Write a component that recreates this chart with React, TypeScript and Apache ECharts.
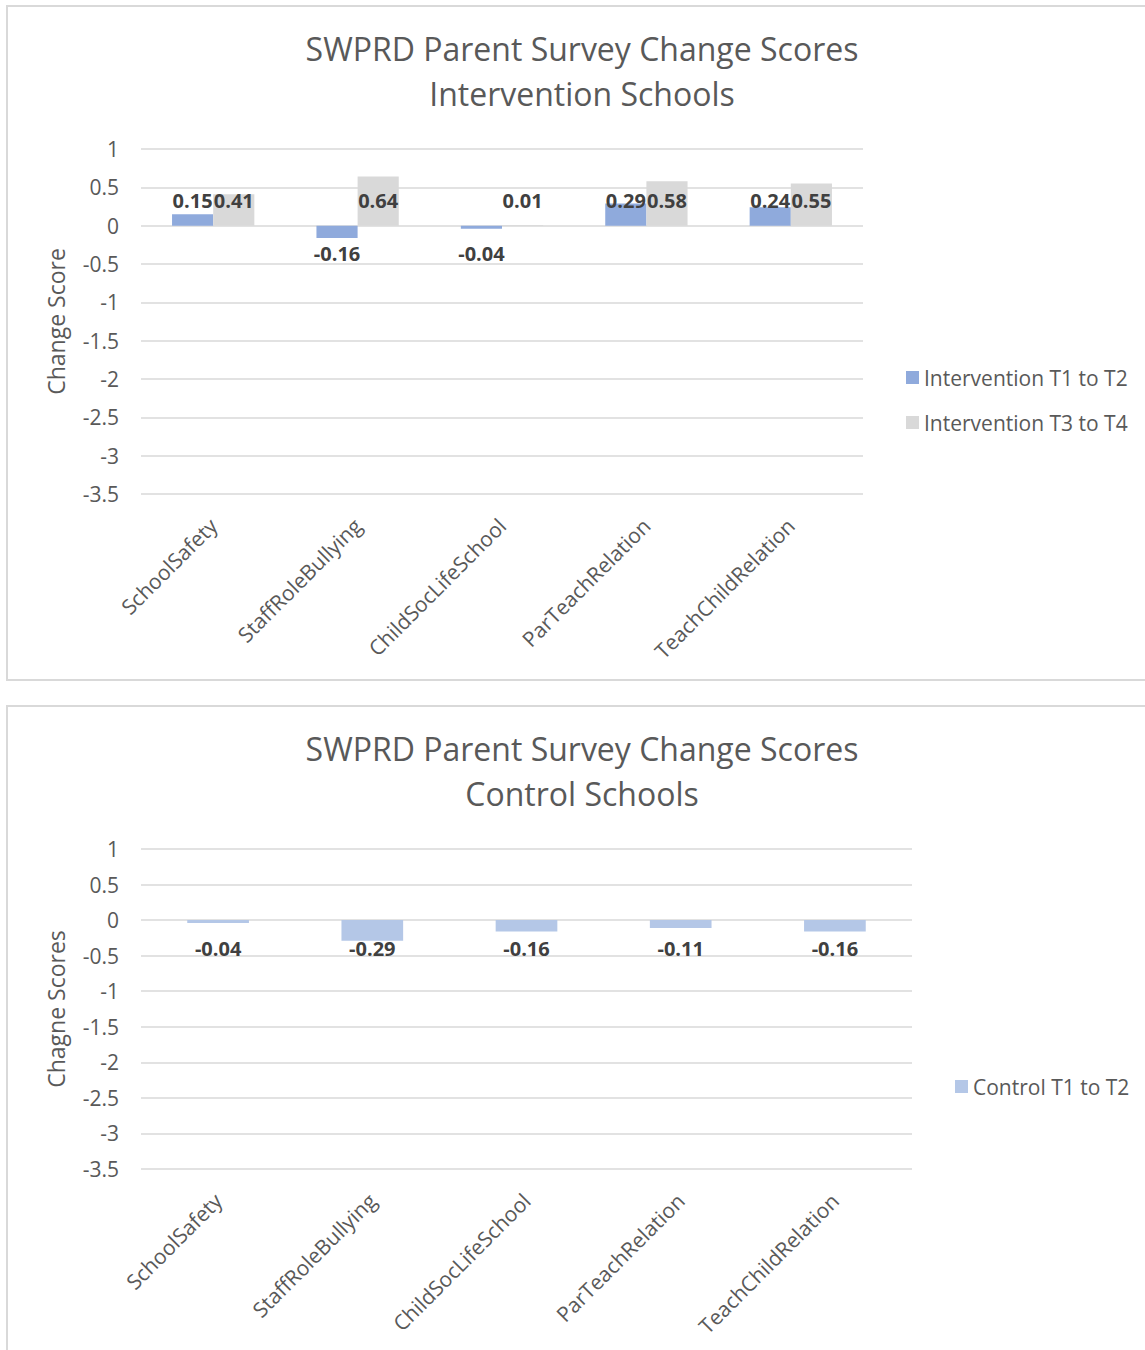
import React, { useEffect, useRef } from "react";
import * as echarts from "echarts";

const categories = [
  "SchoolSafety",
  "StaffRoleBullying",
  "ChildSocLifeSchool",
  "ParTeachRelation",
  "TeachChildRelation",
];
const interventionT1T2 = [0.15, -0.16, -0.04, 0.29, 0.24];
const interventionT3T4 = [0.41, 0.64, 0.01, 0.58, 0.55];
const controlT1T2 = [-0.04, -0.29, -0.16, -0.11, -0.16];

const Y_MIN = -3.5;
const Y_MAX = 1;
const Y_STEP = 0.5;

const FONT = "'Open Sans', 'Noto Sans', sans-serif";
const TEXT = "#595959";
const LABEL = "#404040";
const GRID = "#d9d9d9";

const labelled = (vals: number[], posDist: number, negDist: number) =>
  vals.map((v) => ({
    value: v,
    label:
      v >= 0
        ? { position: "insideBottom", distance: posDist }
        : { position: "insideTop", distance: negDist },
  }));

const dataLabel = {
  show: true,
  color: LABEL,
  fontWeight: "bold",
  fontSize: 20,
  fontFamily: FONT,
};

function baseOptions(title: string, yName: string, grid: any) {
  return {
    animation: false,
    textStyle: { fontFamily: FONT },
    title: {
      text: title,
      left: 577,
      top: grid.titleTop,
      textAlign: "center",
      textStyle: {
        fontFamily: FONT,
        fontSize: 32,
        lineHeight: 45,
        fontWeight: "normal",
        color: TEXT,
      },
    },
    grid: {
      left: grid.left,
      right: grid.right,
      top: grid.top,
      height: grid.height,
      containLabel: false,
    },
    xAxis: {
      type: "category",
      data: categories,
      axisLine: { show: false },
      axisTick: { show: false },
      axisLabel: {
        rotate: 45,
        margin: 28,
        interval: 0,
        color: TEXT,
        fontSize: 21,
        fontFamily: FONT,
      },
    },
    yAxis: {
      type: "value",
      min: Y_MIN,
      max: Y_MAX,
      interval: Y_STEP,
      name: yName,
      nameLocation: "middle",
      nameGap: 74,
      nameTextStyle: { color: TEXT, fontSize: 23, fontFamily: FONT },
      axisLine: { show: false },
      axisTick: { show: false },
      axisLabel: { color: TEXT, fontSize: 21, margin: 22, fontFamily: FONT },
      splitLine: { lineStyle: { color: GRID, width: 1.5 } },
    },
  };
}

function Chart({ option, style }: { option: any; style: React.CSSProperties }) {
  const ref = useRef<HTMLDivElement>(null);
  useEffect(() => {
    if (!ref.current) return;
    const chart = echarts.init(ref.current, undefined, { renderer: "svg" });
    chart.setOption(option);
    return () => chart.dispose();
  }, [option]);
  return <div ref={ref} style={style} />;
}

const topOption = {
  ...baseOptions(
    "SWPRD Parent Survey Change Scores\nIntervention Schools",
    "Change Score",
    { left: 141, right: 282, top: 149, height: 345, titleTop: 21 }
  ),
  legend: {
    orient: "vertical",
    left: 901,
    top: 362,
    itemWidth: 13,
    itemHeight: 13,
    itemGap: 24,
    icon: "rect",
    textStyle: { color: TEXT, fontSize: 21, lineHeight: 20, fontFamily: FONT },
    data: ["Intervention T1 to T2", "Intervention T3 to T4"],
  },
  series: [
    {
      name: "Intervention T1 to T2",
      type: "bar",
      barWidth: "28.5%",
      barGap: "0%",
      itemStyle: { color: "#8faadc" },
      label: dataLabel,
      data: labelled(interventionT1T2, 15, 18),
    },
    {
      name: "Intervention T3 to T4",
      type: "bar",
      barWidth: "28.5%",
      barGap: "0%",
      itemStyle: { color: "#d9d9d9" },
      label: dataLabel,
      data: labelled(interventionT3T4, 15, 18),
    },
  ],
};

const bottomOption = {
  ...baseOptions(
    "SWPRD Parent Survey Change Scores\nControl Schools",
    "Chagne Scores",
    { left: 141, right: 233, top: 159, height: 320, titleTop: 31 }
  ),
  legend: {
    orient: "vertical",
    left: 950,
    top: 381,
    itemWidth: 13,
    itemHeight: 13,
    icon: "rect",
    textStyle: { color: TEXT, fontSize: 21, lineHeight: 20, fontFamily: FONT },
    data: ["Control T1 to T2"],
  },
  series: [
    {
      name: "Control T1 to T2",
      type: "bar",
      barWidth: "40%",
      itemStyle: { color: "#b4c7e7" },
      label: dataLabel,
      data: labelled(controlT1T2, 15, 18),
    },
  ],
};

export default function App() {
  useEffect(() => {
    document.body.style.margin = "0";
  }, []);
  return (
    <div
      style={{
        position: "relative",
        width: 1145,
        height: 1350,
        overflow: "hidden",
        background: "#ffffff",
      }}
    >
      <div
        style={{
          position: "absolute",
          left: 6,
          top: 5,
          width: 1200,
          height: 676,
          boxSizing: "border-box",
          borderTop: `2px solid ${GRID}`,
          borderLeft: `2px solid ${GRID}`,
          borderBottom: `2px solid ${GRID}`,
        }}
      />
      <div
        style={{
          position: "absolute",
          left: 6,
          top: 705,
          width: 1200,
          height: 700,
          boxSizing: "border-box",
          borderTop: `2px solid ${GRID}`,
          borderLeft: `2px solid ${GRID}`,
        }}
      />
      <Chart
        option={topOption}
        style={{ position: "absolute", left: 0, top: 0, width: 1145, height: 690 }}
      />
      <Chart
        option={bottomOption}
        style={{ position: "absolute", left: 0, top: 690, width: 1145, height: 660 }}
      />
    </div>
  );
}
